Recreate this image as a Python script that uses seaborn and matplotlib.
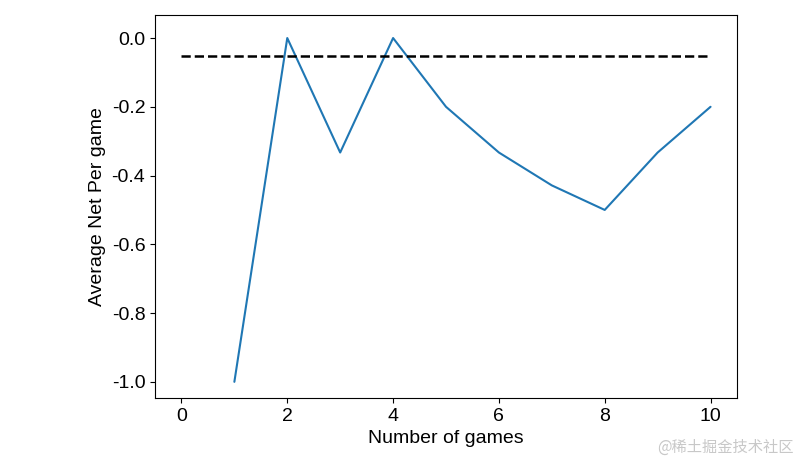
import matplotlib
matplotlib.use("Agg")
import matplotlib.pyplot as plt
import seaborn as sns
import pandas as pd

games = [1, 2, 3, 4, 5, 6, 7, 8, 9, 10]
avg_net = [-1.0, 0.0, -0.333, 0.0, -0.2, -0.333, -0.4286, -0.5, -0.333, -0.2]
baseline = -0.0526

sns.set_style("ticks")
plt.rcParams['font.family'] = ['Liberation Sans', 'Noto Sans CJK SC']
plt.rcParams['text.color'] = 'black'
plt.rcParams['axes.labelcolor'] = 'black'
plt.rcParams['xtick.color'] = 'black'
plt.rcParams['ytick.color'] = 'black'
plt.rcParams['axes.edgecolor'] = 'black'
fig = plt.figure(figsize=(8.02, 4.70), dpi=100)
ax = fig.add_axes([155/802, 1-398/470, (737-155)/802, (398-15)/470])
df = pd.DataFrame({"games": games, "net": avg_net})
sns.lineplot(data=df, x="games", y="net", ax=ax, color="#1f77b4")
ax.hlines(baseline, 0, 10, colors="black", linestyles="--", linewidth=1.8)
ax.set_xlim(-0.5, 10.5)
ax.set_ylim(-1.047, 0.067)
ax.set_xticks([0, 2, 4, 6, 8, 10])
ax.set_yticks([0.0, -0.2, -0.4, -0.6, -0.8, -1.0])
ax.set_yticklabels(["0.0", "-0.2", "-0.4", "-0.6", "-0.8", "-1.0"])
ax.tick_params(labelsize=14)
ax.set_xlabel("Number of games", fontsize=14)
ax.set_ylabel("Average Net Per game", fontsize=14)
fig.text(0.99, 0.03, "@稀土掘金技术社区", ha="right", va="bottom", fontsize=11,
         color="#c8c8c8", family=['Noto Sans CJK SC', 'DejaVu Sans'])
fig.savefig("out.png", dpi=100)
